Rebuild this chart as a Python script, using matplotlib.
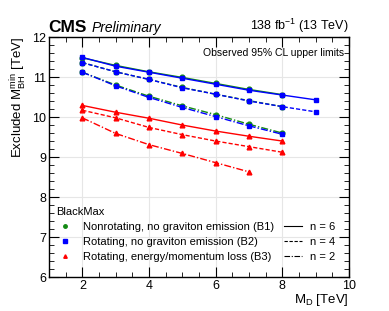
import numpy as np
import matplotlib
matplotlib.use('Agg')
import matplotlib.pyplot as plt
from matplotlib.lines import Line2D
from matplotlib.ticker import MultipleLocator

plt.rcParams['font.family'] = ['Liberation Sans', 'DejaVu Sans']
plt.rcParams['mathtext.fontset'] = 'custom'
plt.rcParams['mathtext.rm'] = 'Liberation Sans'
plt.rcParams['mathtext.it'] = 'Liberation Sans:italic'

# values (M_D in TeV, excluded M_BH^min in TeV)
md = [2, 3, 4, 5, 6, 7, 8, 9]

b1_n6 = [11.48, 11.29, 11.13, 10.99, 10.84, 10.69, 10.56]
b1_n4 = [11.36, 11.13, 10.94, 10.74, 10.57, 10.41, 10.26]
b1_n2 = [11.12, 10.80, 10.52, 10.28, 10.06, 9.82, 9.60]

b2_n6 = [11.49, 11.27, 11.12, 10.97, 10.82, 10.67, 10.55, 10.43]
b2_n4 = [11.36, 11.13, 10.94, 10.73, 10.57, 10.40, 10.26, 10.13]
b2_n2 = [11.12, 10.78, 10.49, 10.24, 10.01, 9.78, 9.57]

b3_n6 = [10.29, 10.12, 9.97, 9.80, 9.65, 9.52, 9.40]
b3_n4 = [10.17, 9.98, 9.74, 9.56, 9.40, 9.26, 9.12]
b3_n2 = [9.98, 9.59, 9.31, 9.09, 8.86, 8.63]

green = '#138a13'
blue = '#0000ff'
red = '#ff0000'

fig = plt.figure(figsize=(3.89, 3.11), dpi=100)
ax = fig.add_axes([0.126, 0.109, 0.771, 0.772])

series = [
    (b1_n6, green, 'o', '-'), (b1_n4, green, 'o', '--'), (b1_n2, green, 'o', '-.'),
    (b2_n6, blue, 's', '-'), (b2_n4, blue, 's', '--'), (b2_n2, blue, 's', '-.'),
    (b3_n6, red, '^', '-'), (b3_n4, red, '^', '--'), (b3_n2, red, '^', '-.'),
]
for y, c, m, ls in series:
    ax.plot(md[:len(y)], y, color=c, marker=m, ls=ls, lw=1.0, ms=3.4,
            dashes=(3, 1.5) if ls == '--' else ((5, 1.5, 1, 1.5) if ls == '-.' else (None, None)))

ax.set_xlim(1, 10)
ax.set_ylim(6, 12)
ax.xaxis.set_major_locator(MultipleLocator(2))
ax.xaxis.set_minor_locator(MultipleLocator(0.5))
ax.yaxis.set_major_locator(MultipleLocator(1))
ax.yaxis.set_minor_locator(MultipleLocator(0.2))
ax.tick_params(which='both', direction='in', top=True, right=True, labelsize=9, pad=2)
ax.tick_params(which='major', length=7, width=0.8)
ax.tick_params(which='minor', length=3.5, width=0.6)
ax.grid(True, which='major', color='#e6e6e6', lw=0.8)
ax.set_axisbelow(True)
for s in ax.spines.values():
    s.set_linewidth(1.0)

ax.set_xlabel(r'M$_{\mathrm{D}}$ [TeV]', fontsize=9.5, loc='right', labelpad=0)
ax.set_ylabel(r'Excluded M$_{\mathrm{BH}}^{\mathrm{min}}$ [TeV]', fontsize=9.5, loc='top', labelpad=2)

fig.text(0.124, 0.888, 'CMS', fontsize=12.5, fontweight='bold', ha='left', va='bottom')
fig.text(0.236, 0.888, 'Preliminary', fontsize=10, style='italic', ha='left', va='bottom')
fig.text(0.897, 0.888, r'138 fb$^{-1}$ (13 TeV)', fontsize=9, ha='right', va='bottom')
ax.text(0.985, 0.955, 'Observed 95% CL upper limits', transform=ax.transAxes,
        fontsize=7.5, ha='right', va='top')

handles = [
    Line2D([], [], color=green, marker='o', ls='none', ms=2.5),
    Line2D([], [], color=blue, marker='s', ls='none', ms=2.5),
    Line2D([], [], color=red, marker='^', ls='none', ms=2.5),
    Line2D([], [], color='black', ls='-', lw=0.8),
    Line2D([], [], color='black', ls='--', lw=0.8, dashes=(3, 1.5)),
    Line2D([], [], color='black', ls='-.', lw=0.8, dashes=(5, 1.5, 1, 1.5)),
]
labels = ['Nonrotating, no graviton emission (B1)',
          'Rotating, no graviton emission (B2)',
          'Rotating, energy/momentum loss (B3)',
          'n = 6', 'n = 4', 'n = 2']
leg = ax.legend(handles, labels, ncol=2, title='BlackMax', alignment='left',
                loc='lower left', bbox_to_anchor=(-0.01, 0.02), frameon=False,
                fontsize=8, title_fontsize=8, handlelength=1.6,
                columnspacing=0.9, labelspacing=0.45, handletextpad=0.8)

fig.savefig('out.png', dpi=100)
